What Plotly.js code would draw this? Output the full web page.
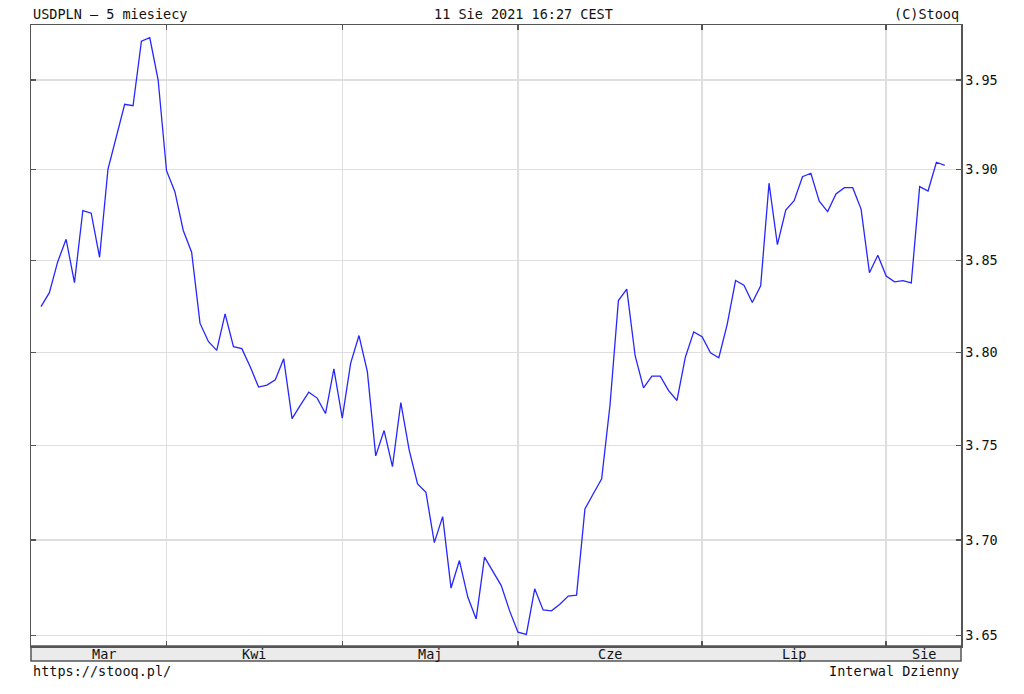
<!DOCTYPE html>
<html>
<head>
<meta charset="utf-8">
<script src="https://cdn.plot.ly/plotly-3.0.1.min.js"></script>
<style>
html,body{margin:0;padding:0;background:#fff;}
#chart{width:1024px;height:694px;}
</style>
</head>
<body>
<div id="chart"></div>
<script>
// USDPLN daily closes, 11 Mar 2021 – 11 Aug 2021
const marValues = [3.8248, 3.8324, 3.8493, 3.8616, 3.8379, 3.8774, 3.8759, 3.8517, 3.9002, 3.9184, 3.9364, 3.9356, 3.9719, 3.9738, 3.9500];
const aprValues = [3.8994, 3.8878, 3.8664, 3.8545, 3.8158, 3.8059, 3.8011, 3.8209, 3.8031, 3.8020, 3.7923, 3.7813, 3.7824, 3.7852, 3.7966, 3.7644, 3.7716, 3.7786, 3.7754, 3.7671, 3.7911];
const mayValues = [3.7647, 3.7941, 3.8091, 3.7896, 3.7445, 3.7580, 3.7388, 3.7730, 3.7476, 3.7296, 3.7252, 3.6986, 3.7123, 3.6748, 3.6892, 3.6701, 3.6587, 3.6910, 3.6834, 3.6761, 3.6629];
const junValues = [3.6518, 3.6507, 3.6744, 3.6634, 3.6629, 3.6664, 3.6706, 3.6711, 3.7163, 3.7244, 3.7323, 3.7718, 3.8281, 3.8343, 3.7982, 3.7809, 3.7872, 3.7872, 3.7794, 3.7741, 3.7974, 3.8111];
const julValues = [3.8085, 3.7998, 3.7971, 3.8152, 3.8390, 3.8365, 3.8270, 3.8361, 3.8925, 3.8586, 3.8777, 3.8828, 3.8961, 3.8980, 3.8825, 3.8768, 3.8866, 3.8900, 3.8900, 3.8782, 3.8433, 3.8528];
const augValues = [3.8415, 3.8383, 3.8390, 3.8377, 3.8906, 3.8882, 3.9041, 3.9024];

const monthLabels = ['Mar', 'Kwi', 'Maj', 'Cze', 'Lip', 'Sie'];
const yTickVals = [3.65, 3.70, 3.75, 3.80, 3.85, 3.90, 3.95];
const yTickText = ['3.65', '3.70', '3.75', '3.80', '3.85', '3.90', '3.95'];

const titleLeft = 'USDPLN – 5 miesiecy';
const titleCenter = '11 Sie 2021 16:27 CEST';
const titleRight = '(C)Stooq';
const footLeft = 'https://stooq.pl/';
const footRight = 'Interwal Dzienny';

// ---- build ----
const months = [marValues, aprValues, mayValues, junValues, julValues, augValues];
const values = [].concat(...months);
const xs = values.map((_, i) => i);
const monthStarts = [];
let acc = 0;
months.forEach((m, i) => { if (i > 0) monthStarts.push(acc); acc += m.length; });

const xMin = -1.195, xMax = 109.94;
const bounds = [0].concat(monthStarts).concat([xMax]);
const monthMid = monthLabels.map((_, i) => (bounds[i] + bounds[i + 1]) / 2);

const FONT = 'DejaVu Sans Mono, monospace';
const frame = '#555555';
const txt = '#111111';

const annotations = monthLabels.map((m, i) => ({
  x: monthMid[i], xref: 'x', y: -0.0125, yref: 'paper',
  text: m, showarrow: false, xanchor: 'center', yanchor: 'middle',
  font: {family: FONT, size: 13.5, color: txt}
}));
annotations.push(
  {x: 0, xref: 'paper', y: 1.0177, yref: 'paper', text: titleLeft, showarrow: false, xanchor: 'left', yanchor: 'middle', font: {family: FONT, size: 13.5, color: txt}},
  {x: 0.530, xref: 'paper', y: 1.0177, yref: 'paper', text: titleCenter, showarrow: false, xanchor: 'center', yanchor: 'middle', font: {family: FONT, size: 13.5, color: txt}},
  {x: 1, xref: 'paper', y: 1.0177, yref: 'paper', text: titleRight, showarrow: false, xanchor: 'right', yanchor: 'middle', font: {family: FONT, size: 13.5, color: txt}},
  {x: 0, xref: 'paper', y: -0.0403, yref: 'paper', text: footLeft, showarrow: false, xanchor: 'left', yanchor: 'middle', font: {family: FONT, size: 13.5, color: txt}},
  {x: 1, xref: 'paper', y: -0.0403, yref: 'paper', text: footRight, showarrow: false, xanchor: 'right', yanchor: 'middle', font: {family: FONT, size: 13.5, color: txt}}
);

const trace = {
  x: xs, y: values, type: 'scatter', mode: 'lines',
  line: {color: '#2626ff', width: 1.3},
  hoverinfo: 'skip'
};

const layout = {
  width: 1024, height: 694,
  margin: {l: 31, r: 63, t: 25, b: 48, pad: 0},
  paper_bgcolor: '#ffffff', plot_bgcolor: '#ffffff',
  showlegend: false,
  font: {family: FONT, size: 13.5, color: txt},
  xaxis: {
    type: 'linear', range: [xMin, xMax],
    tickmode: 'array', tickvals: monthStarts, ticktext: monthStarts.map(() => ''),
    showticklabels: false,
    ticks: 'inside', ticklen: 5, tickwidth: 1.5, tickcolor: frame,
    showgrid: true, gridcolor: '#dedede', gridwidth: 1.5,
    zeroline: false,
    showline: true, linecolor: frame, linewidth: 1.5, mirror: 'ticks',
    fixedrange: true
  },
  yaxis: {
    type: 'log', side: 'right',
    range: [0.561657, 0.599994],
    tickmode: 'array', tickvals: yTickVals, ticktext: yTickText,
    ticks: 'inside', ticklen: 5, tickwidth: 1.5, tickcolor: frame,
    showgrid: true, gridcolor: '#dedede', gridwidth: 1.5,
    zeroline: false,
    showline: true, linecolor: frame, linewidth: 1.5, mirror: 'ticks',
    tickfont: {family: FONT, size: 13.5, color: txt},
    ticklabelstandoff: 0,
    fixedrange: true
  },
  shapes: [{
    type: 'rect', xref: 'paper', yref: 'paper',
    x0: 0, x1: 1, y0: -0.0242, y1: 0,
    fillcolor: '#ebebeb', line: {color: frame, width: 1.5}, layer: 'below'
  }],
  annotations: annotations
};

Plotly.newPlot('chart', [trace], layout, {staticPlot: true, displayModeBar: false});
</script>
</body>
</html>
